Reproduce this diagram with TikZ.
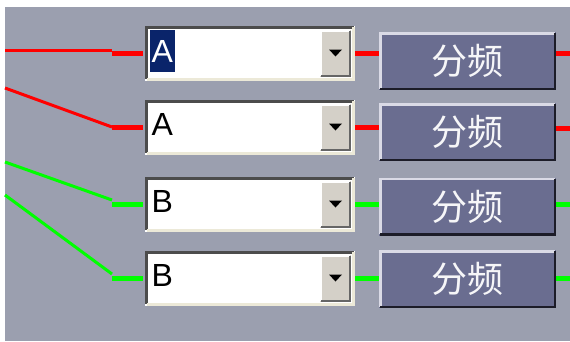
\documentclass[tikz,border=0pt]{standalone}
\usepackage{fontspec}
\setmainfont{Liberation Sans}
\newfontfamily\cjk{Noto Sans CJK SC}
\usetikzlibrary{positioning}

\definecolor{panel}{RGB}{155,159,175}
\definecolor{btnface}{RGB}{106,109,144}
\definecolor{btnlight}{RGB}{218,218,230}
\definecolor{btndark}{RGB}{28,28,40}
\definecolor{ddface}{RGB}{212,208,200}
\definecolor{selbg}{RGB}{10,36,106}
\definecolor{rim}{RGB}{236,233,216}

% bevel round a named node: #2 top/left, #3 bottom/right
\newcommand{\bevel}[4]{%
  \draw[#2, line width=#4] ([shift={(#4/2,#4/2)}]#1.south west) -- ([shift={(#4/2,-#4/2)}]#1.north west) -- ([shift={(-#4/2,-#4/2)}]#1.north east);
  \draw[#3, line width=#4] ([shift={(#4/2,#4/2)}]#1.south west) -- ([shift={(-#4/2,#4/2)}]#1.south east) -- ([shift={(-#4/2,-#4/2)}]#1.north east);}

\tikzset{
  combo/.style={fill=white, minimum width=210pt, minimum height=55pt, inner sep=0pt, outer sep=0pt},
  dropbtn/.style={fill=ddface, minimum width=31pt, minimum height=47pt, inner sep=0pt, outer sep=0pt},
  cbtext/.style={inner xsep=1.5pt, inner ysep=0pt, font=\fontsize{32}{32}\selectfont},
  seltext/.style={cbtext, fill=selbg, text=white, minimum height=42pt},
  divbtn/.style={fill=btnface, minimum width=177pt, minimum height=58pt, inner sep=0pt, outer sep=0pt,
    text=white!94!btnface, font=\cjk\fontsize{36}{36}\selectfont},
  wirethin/.style={line width=3pt},
  wire/.style={line width=5pt},
}

\begin{document}
\begin{tikzpicture}[x=1pt, y=-1pt]
  \useasboundingbox (0,0) rectangle (570,341);
  \fill[panel] (5,7) rectangle (570,341);

  % selector boxes
  \node[combo] (cb1) at (250,53) {};
  \node[combo] (cb2) at (250,127) {};
  \node[combo] (cb3) at (250,204) {};
  \node[combo] (cb4) at (250,278) {};
  \bevel{cb1}{black!70}{rim}{3pt}
  \bevel{cb2}{black!70}{rim}{3pt}
  \bevel{cb3}{black!70}{rim}{3pt}
  \bevel{cb4}{black!70}{rim}{3pt}

  \node[seltext, anchor=west] (t1) at ([shift={(5pt,2pt)}]cb1.west) {A};
  \node[cbtext, anchor=west] (t2) at ([shift={(5pt,2.5pt)}]cb2.west) {A};
  \node[cbtext, anchor=west] (t3) at ([shift={(5pt,2.5pt)}]cb3.west) {B};
  \node[cbtext, anchor=west] (t4) at ([shift={(5pt,2.5pt)}]cb4.west) {B};

  % drop-down buttons
  \node[dropbtn, anchor=east] (dd1) at ([xshift=-4pt]cb1.east) {};
  \node[dropbtn, anchor=east] (dd2) at ([xshift=-4pt]cb2.east) {};
  \node[dropbtn, anchor=east] (dd3) at ([xshift=-4pt]cb3.east) {};
  \node[dropbtn, anchor=east] (dd4) at ([xshift=-4pt]cb4.east) {};
  \bevel{dd1}{white}{black!60}{2pt}
  \bevel{dd2}{white}{black!60}{2pt}
  \bevel{dd3}{white}{black!60}{2pt}
  \bevel{dd4}{white}{black!60}{2pt}
  \fill ([shift={(-6.5pt,3.5pt)}]dd1.center) -- ++(13pt,0) -- ++(-6.5pt,-7pt) -- cycle;
  \fill ([shift={(-6.5pt,3.5pt)}]dd2.center) -- ++(13pt,0) -- ++(-6.5pt,-7pt) -- cycle;
  \fill ([shift={(-6.5pt,3.5pt)}]dd3.center) -- ++(13pt,0) -- ++(-6.5pt,-7pt) -- cycle;
  \fill ([shift={(-6.5pt,3.5pt)}]dd4.center) -- ++(13pt,0) -- ++(-6.5pt,-7pt) -- cycle;

  % divider buttons
  \node[divbtn] (div1) at (467.5,61) {分频};
  \node[divbtn] (div2) at (467.5,132) {分频};
  \node[divbtn] (div3) at (467.5,206.5) {分频};
  \node[divbtn] (div4) at (467.5,279) {分频};
  \bevel{div1}{btnlight}{btndark}{2.5pt}
  \bevel{div2}{btnlight}{btndark}{2.5pt}
  \bevel{div3}{btnlight}{btndark}{2.5pt}
  \bevel{div4}{btnlight}{btndark}{2.5pt}

  % wires
  \coordinate (inR1) at (5,50);
  \coordinate (kR1) at (112,50);
  \coordinate (inR2) at (5,88);
  \coordinate (kR2) at (112,127);
  \coordinate (inG1) at (5,162);
  \coordinate (kG1) at (112,200);
  \coordinate (inG2) at (5,195);
  \coordinate (kG2) at (112,274);
  \coordinate (outR1) at (570,53);
  \coordinate (outR2) at (570,128);
  \coordinate (outG1) at (570,204);
  \coordinate (outG2) at (570,278);

  \draw[red, wirethin] (inR1) -- (kR1);
  \draw[red, wire] (kR1 |- cb1) -- ([xshift=-2pt]cb1.west);
  \draw[red, wirethin] (inR2) -- (kR2);
  \draw[red, wire] (kR2 |- cb2) -- ([xshift=-2pt]cb2.west);
  \draw[green, wirethin] (inG1) -- (kG1);
  \draw[green, wire] (kG1 |- cb3) -- ([xshift=-2pt]cb3.west);
  \draw[green, wirethin] (inG2) -- (kG2);
  \draw[green, wire] (kG2 |- cb4) -- ([xshift=-2pt]cb4.west);

  \draw[red, wire] (cb1.east) -- (cb1.east -| div1.west);
  \draw[red, wire] (cb2.east) -- (cb2.east -| div2.west);
  \draw[green, wire] (cb3.east) -- (cb3.east -| div3.west);
  \draw[green, wire] (cb4.east) -- (cb4.east -| div4.west);
  \draw[red, wire] (div1.east |- outR1) -- (outR1);
  \draw[red, wire] (div2.east |- outR2) -- (outR2);
  \draw[green, wire] (div3.east |- outG1) -- (outG1);
  \draw[green, wire] (div4.east |- outG2) -- (outG2);
\end{tikzpicture}
\end{document}
